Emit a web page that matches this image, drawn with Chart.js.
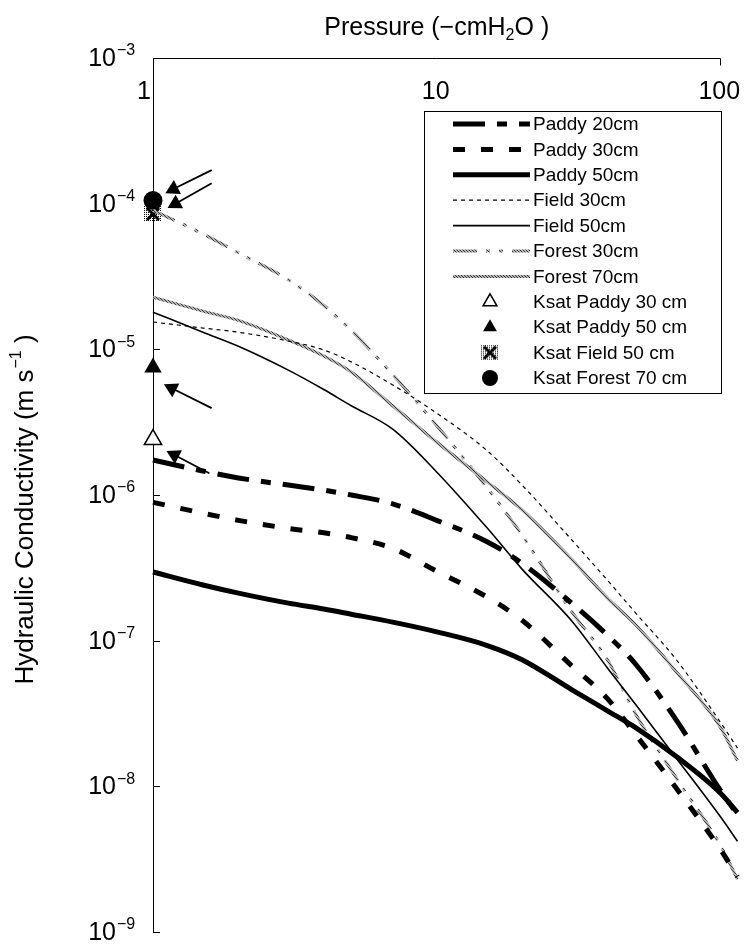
<!DOCTYPE html>
<html>
<head>
<meta charset="utf-8">
<title>Hydraulic Conductivity</title>
<script src="https://cdn.jsdelivr.net/npm/chart.js@4.4.1/dist/chart.umd.min.js"></script>
<style>
  html, body { margin: 0; padding: 0; background: #fff; }
  canvas { display: block; }
</style>
</head>
<body>
<canvas id="grafik" width="749" height="944"></canvas>
<script>
// values (pressure in -cmH2O, K in m/s)
const pressure = [1, 1.5, 2, 3, 4, 5, 7, 10, 15, 20, 30, 40, 50, 70, 100, 115];

const paddy20 = [1.74e-6, 1.46e-6, 1.31e-6, 1.17e-6, 1.08e-6, 1.0e-6, 8.7e-7, 6.7e-7, 4.8e-7, 3.4e-7, 1.8e-7, 1.09e-7, 7.0e-8, 2.85e-8, 9.4e-9, 6.4e-9];
const paddy30 = [8.9e-7, 7.5e-7, 6.7e-7, 5.9e-7, 5.5e-7, 5.1e-7, 4.3e-7, 3.0e-7, 2.0e-7, 1.38e-7, 6.7e-8, 4.0e-8, 2.3e-8, 9.7e-9, 3.7e-9, 2.4e-9];
const paddy50 = [2.96e-7, 2.41e-7, 2.12e-7, 1.81e-7, 1.65e-7, 1.52e-7, 1.34e-7, 1.15e-7, 9.3e-8, 7.4e-8, 4.6e-8, 3.3e-8, 2.55e-8, 1.6e-8, 9.0e-9, 6.6e-9];
const field30 = [1.54e-5, 1.4e-5, 1.31e-5, 1.14e-5, 9.9e-6, 8.2e-6, 5.7e-6, 3.65e-6, 2.03e-6, 1.17e-6, 4.9e-7, 2.6e-7, 1.57e-7, 7.4e-8, 2.76e-8, 1.83e-8];
const field50 = [1.8e-5, 1.31e-5, 1.05e-5, 7.2e-6, 5.3e-6, 4.1e-6, 2.83e-6, 1.44e-6, 6.0e-7, 3.1e-7, 1.36e-7, 6.5e-8, 3.7e-8, 1.56e-8, 6.2e-9, 4.2e-9];
const forest30 = [9.0e-5, 6.2e-5, 4.6e-5, 3.0e-5, 2.0e-5, 1.35e-5, 6.7e-6, 3.0e-6, 1.13e-6, 5.3e-7, 1.57e-7, 7.4e-8, 3.2e-8, 1.14e-8, 3.95e-9, 2.3e-9];
const forest70 = [2.28e-5, 1.83e-5, 1.58e-5, 1.16e-5, 9.0e-6, 7.0e-6, 4.1e-6, 2.31e-6, 1.24e-6, 7.9e-7, 3.6e-7, 1.96e-7, 1.3e-7, 6.1e-8, 2.55e-8, 1.5e-8];

// saturated conductivity, plotted at 1 cm
const ksatPressure = 1;
const ksatPaddy30 = 2.4e-6;
const ksatPaddy50 = 7.5e-6;
const ksatField50 = 8.5e-5;
const ksatForest70 = 1.05e-4;

// arrows pointing at the Ksat marks
const arrowFromX = [1.61, 1.61, 1.61, 1.58];
const arrowFromY = [1.7e-4, 1.38e-4, 3.95e-6, 1.41e-6];
const arrowToX = [1.18, 1.20, 1.165, 1.19];
const arrowToY = [1.26e-4, 1.0e-4, 5.4e-6, 1.88e-6];
const arrowAngle = [243, 241, 297, 297];

const xTicks = [1, 10, 100];
const yExponents = [-3, -4, -5, -6, -7, -8, -9];

const FONT = '"Liberation Sans", Arial, sans-serif';
const ctx0 = document.getElementById('grafik').getContext('2d');

function doku(base, dot) {
    const c = document.createElement('canvas');
    c.width = 3; c.height = 3;
    const g = c.getContext('2d');
    g.fillStyle = base; g.fillRect(0, 0, 3, 3);
    g.fillStyle = dot;
    g.fillRect(0, 0, 1, 1); g.fillRect(1, 1, 1, 1); g.fillRect(2, 2, 1, 1);
    return ctx0.createPattern(c, 'repeat');
}

// cross hatched square for Ksat Field
const tarama = document.createElement('canvas');
tarama.width = 18; tarama.height = 16;
(function() {
    const t = tarama.getContext('2d');
    t.fillStyle = '#000';
    for (let i = 0; i < 18; i++)
        for (let j = 0; j < 16; j++)
            if (i % 2 === 0 && j % 2 === 0) t.fillRect(i, j, 1, 1);
    t.strokeStyle = '#000'; t.lineWidth = 3;
    t.beginPath(); t.moveTo(3, 2); t.lineTo(15, 14); t.moveTo(15, 2); t.lineTo(3, 14); t.stroke();
})();

function seri(values) {
    return pressure.map((p, i) => ({ x: p, y: values[i] }));
}

function curve(label, values, extra) {
    return Object.assign({
        label: label, data: seri(values), borderColor: '#000', borderWidth: 1.5,
        pointRadius: 0, fill: false, cubicInterpolationMode: 'monotone', clip: false
    }, extra);
}

function ksat(label, value, extra) {
    return Object.assign({
        label: label, data: [{ x: ksatPressure, y: value }], showLine: false,
        pointRadius: 10, pointBorderColor: '#000', pointBackgroundColor: '#000',
        pointBorderWidth: 0, clip: false
    }, extra);
}

const datasets = [
    curve('Paddy 20cm', paddy20, { borderWidth: 5, borderDash: [32, 12, 10, 12] }),
    curve('Paddy 30cm', paddy30, { borderWidth: 5, borderDash: [12, 16] }),
    curve('Paddy 50cm', paddy50, { borderWidth: 5 }),
    curve('Field 30cm', field30, { borderWidth: 1.2, borderDash: [4, 4] }),
    curve('Field 50cm', field50, { borderWidth: 1.6 }),
    curve('Forest 30cm', forest30, { borderColor: doku('#b0b0b0', '#404040'), borderWidth: 3, borderDash: [24, 9, 4, 9, 4, 9] }),
    curve('Forest 70cm', forest70, { borderColor: doku('#b0b0b0', '#404040'), borderWidth: 3 }),
    ksat('Ksat Paddy 30 cm', ksatPaddy30, { pointStyle: 'triangle', pointBackgroundColor: '#fff', pointBorderWidth: 1.5 }),
    ksat('Ksat Paddy 50 cm', ksatPaddy50, { pointStyle: 'triangle' }),
    ksat('Ksat Field 50 cm', ksatField50, { pointStyle: tarama }),
    ksat('Ksat Forest 70 cm', ksatForest70, { pointStyle: 'circle', pointRadius: 9.5 })
];

arrowFromX.forEach((x0, i) => {
    datasets.push({
        label: '', data: [{ x: x0, y: arrowFromY[i] }, { x: arrowToX[i], y: arrowToY[i] }],
        borderColor: '#000', borderWidth: 1.8, pointRadius: [0, 9], pointStyle: 'triangle',
        pointRotation: [0, arrowAngle[i]], pointBackgroundColor: '#000', pointBorderWidth: 0, clip: false
    });
});

// axis labels, ticks and legend drawn by hand (superscripts)
const yazilar = {
    id: 'yazilar',
    afterDraw(chart) {
        const ctx = chart.ctx;
        const xs = chart.scales.x, ys = chart.scales.y;
        const area = chart.chartArea;
        ctx.save();
        ctx.fillStyle = '#000';
        ctx.strokeStyle = '#000';
        ctx.lineWidth = 1;

        // top axis line stops at 100, curves run a little past it
        const px100 = Math.round(xs.getPixelForValue(100)) + 0.5;
        const top = Math.round(area.top) + 0.5;
        ctx.beginPath();
        ctx.moveTo(area.left, top); ctx.lineTo(px100, top);
        ctx.moveTo(px100, top); ctx.lineTo(px100, top + 7);
        yExponents.forEach(e => {
            const py = Math.round(ys.getPixelForValue(Math.pow(10, e))) + 0.5;
            ctx.moveTo(area.left, py); ctx.lineTo(area.left + 7, py);
        });
        ctx.stroke();

        // x tick labels (under the top axis)
        ctx.font = '25px ' + FONT;
        ctx.textBaseline = 'middle';
        xTicks.forEach(v => {
            const px = xs.getPixelForValue(v);
            if (v === 1) { ctx.textAlign = 'right'; ctx.fillText(String(v), px - 2, area.top + 34); }
            else { ctx.textAlign = 'center'; ctx.fillText(String(v), px - 1, area.top + 34); }
        });

        // y tick labels 10^n
        yExponents.forEach(e => {
            const py = ys.getPixelForValue(Math.pow(10, e));
            ctx.textAlign = 'right';
            ctx.font = '25px ' + FONT;
            ctx.fillText('10', 116, py + 1);
            ctx.textAlign = 'left';
            ctx.font = '16px ' + FONT;
            ctx.fillText('\u2212' + Math.abs(e), 117, py - 7);
        });

        // title
        const cx = (area.left + px100) / 2;
        ctx.textAlign = 'left';
        ctx.font = '25px ' + FONT;
        const a = 'Pressure (\u2212cmH', b = '2', c = 'O )';
        const wa = ctx.measureText(a).width, wc = ctx.measureText(c).width;
        ctx.font = '16px ' + FONT;
        const wb = ctx.measureText(b).width;
        let x0 = cx - (wa + wb + wc) / 2;
        ctx.font = '25px ' + FONT;
        ctx.fillText(a, x0, 28);
        ctx.font = '16px ' + FONT;
        ctx.fillText(b, x0 + wa, 36);
        ctx.font = '25px ' + FONT;
        ctx.fillText(c, x0 + wa + wb, 28);

        // y axis title, rotated
        ctx.save();
        ctx.translate(26, (area.top + area.bottom) / 2 + 15);
        ctx.rotate(-Math.PI / 2);
        const t1 = 'Hydraulic Conductivity (m s', t2 = '\u22121', t3 = ' )';
        ctx.font = '26px ' + FONT;
        const w1 = ctx.measureText(t1).width, w3 = ctx.measureText(t3).width;
        ctx.font = '16px ' + FONT;
        const w2 = ctx.measureText(t2).width;
        let s = -(w1 + w2 + w3) / 2;
        ctx.font = '26px ' + FONT;
        ctx.fillText(t1, s, 0);
        ctx.font = '16px ' + FONT;
        ctx.fillText(t2, s + w1 + 1, -9);
        ctx.font = '26px ' + FONT;
        ctx.fillText(t3, s + w1 + w2 + 1, 0);
        ctx.restore();

        // legend box
        ctx.fillStyle = '#fff';
        ctx.fillRect(424, 111, 297, 282);
        ctx.strokeRect(424.5, 111.5, 297, 282);
        let ly = 124;
        chart.data.datasets.forEach(ds => {
            if (!ds.label) return;
            if (ds.showLine === false) {
                ctx.fillStyle = ds.pointBackgroundColor;
                ctx.strokeStyle = ds.pointBorderColor;
                ctx.lineWidth = ds.pointBorderWidth;
                Chart.helpers.drawPoint(ctx, {
                    pointStyle: ds.pointStyle, radius: 8, rotation: 0, borderWidth: ds.pointBorderWidth
                }, 490, ly);
            } else {
                ctx.setLineDash(ds.borderDash || []);
                ctx.lineWidth = ds.borderWidth;
                ctx.strokeStyle = ds.borderColor;
                ctx.beginPath(); ctx.moveTo(453, ly); ctx.lineTo(530, ly); ctx.stroke();
                ctx.setLineDash([]);
            }
            ctx.fillStyle = '#000';
            ctx.font = '19px ' + FONT;
            ctx.textAlign = 'left';
            ctx.textBaseline = 'middle';
            ctx.fillText(ds.label, 533, ly + 1);
            ly += 25.4;
        });
        ctx.restore();
    }
};

const grafik = new Chart(document.getElementById('grafik'), {
    type: 'line',
    data: { datasets: datasets },
    options: {
        responsive: false,
        animation: false,
        events: [],
        layout: { padding: { left: 153, right: 5.6, top: 58, bottom: 12 } },
        plugins: { legend: { display: false }, tooltip: { enabled: false } },
        scales: {
            x: {
                type: 'logarithmic', position: 'top', min: 1, max: 115,
                grid: { display: false, drawTicks: false },
                border: { display: false },
                ticks: { display: false }
            },
            y: {
                type: 'logarithmic', min: 1e-9, max: 1e-3,
                grid: { display: false, drawTicks: false },
                border: { display: true, color: '#000', width: 1 },
                ticks: { display: false }
            }
        }
    },
    plugins: [yazilar]
});
</script>
</body>
</html>
